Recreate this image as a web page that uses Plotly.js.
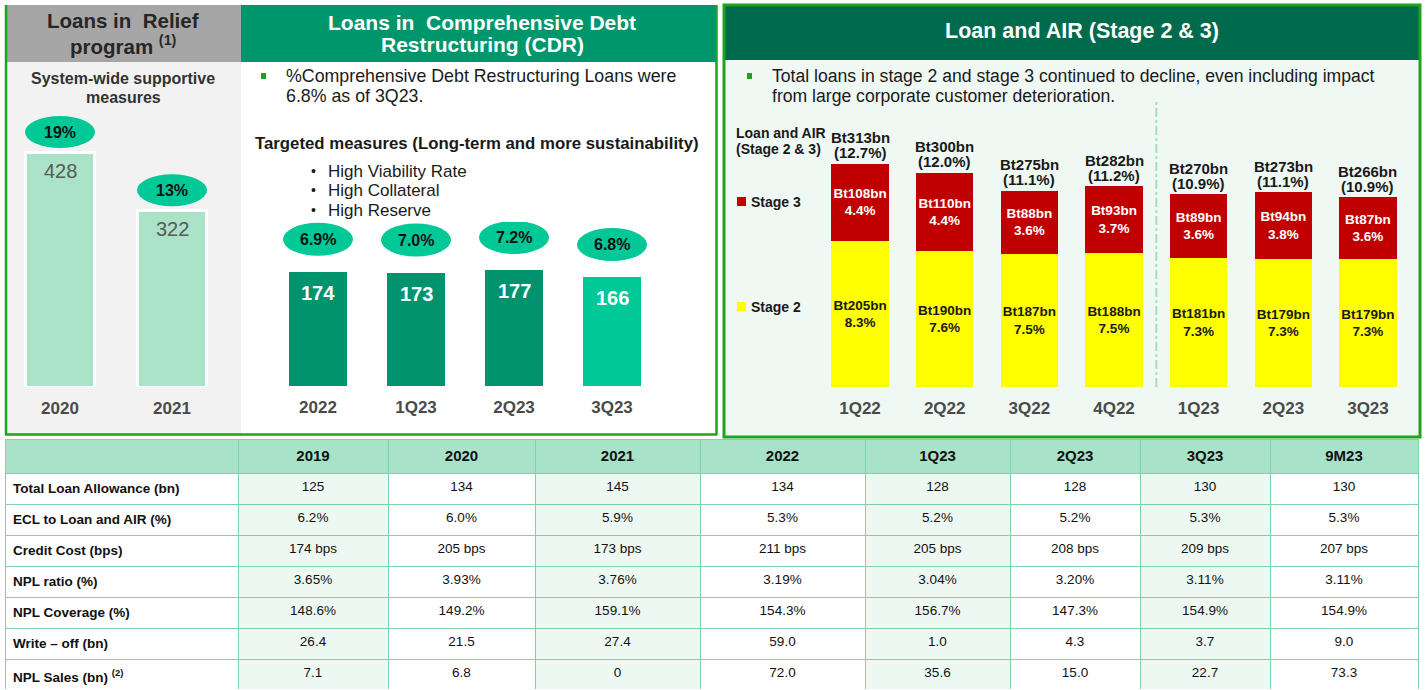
<!DOCTYPE html>
<html>
<head>
<meta charset="utf-8">
<script src="https://cdn.plot.ly/plotly-3.0.1.min.js"></script>
<style>
  html, body { margin: 0; padding: 0; background: #fff; }
  #chart { width: 1425px; height: 690px; }
</style>
</head>
<body>
<div id="chart"></div>
<script>
// Loans in relief program
var reliefYears = ['2020', '2021'];
var reliefLoans = [428, 322];
var reliefPct = ['19%', '13%'];

// Loans in CDR
var cdrPeriods = ['2022', '1Q23', '2Q23', '3Q23'];
var cdrLoans = [174, 173, 177, 166];
var cdrPct = ['6.9%', '7.0%', '7.2%', '6.8%'];
var cdrColors = ['#00936d', '#00936d', '#00936d', '#00c896'];

// Loan and AIR stage 2 & 3 (Bt bn)
var quarters = ['1Q22', '2Q22', '3Q22', '4Q22', '1Q23', '2Q23', '3Q23'];
var stage2 = [205, 190, 187, 188, 181, 179, 179];
var stage2Pct = ['8.3%', '7.6%', '7.5%', '7.5%', '7.3%', '7.3%', '7.3%'];
var stage3 = [108, 110, 88, 93, 89, 94, 87];
var stage3Pct = ['4.4%', '4.4%', '3.6%', '3.7%', '3.6%', '3.8%', '3.6%'];
var totalLoans = [313, 300, 275, 282, 270, 273, 266];
var totalPct = ['12.7%', '12.0%', '11.1%', '11.2%', '10.9%', '11.1%', '10.9%'];

// table
var tableCols = ['2019', '2020', '2021', '2022', '1Q23', '2Q23', '3Q23', '9M23'];
var rowLabels = ['Total Loan Allowance (bn)', 'ECL to Loan and AIR (%)', 'Credit Cost (bps)',
  'NPL ratio (%)', 'NPL Coverage (%)', 'Write \u2013 off (bn)', 'NPL Sales (bn) <sup>(2)</sup>'];
var loanAllowance = ['125', '134', '145', '134', '128', '128', '130', '130'];
var eclRatio = ['6.2%', '6.0%', '5.9%', '5.3%', '5.2%', '5.2%', '5.3%', '5.3%'];
var creditCost = ['174 bps', '205 bps', '173 bps', '211 bps', '205 bps', '208 bps', '209 bps', '207 bps'];
var nplRatio = ['3.65%', '3.93%', '3.76%', '3.19%', '3.04%', '3.20%', '3.11%', '3.11%'];
var nplCoverage = ['148.6%', '149.2%', '159.1%', '154.3%', '156.7%', '147.3%', '154.9%', '154.9%'];
var writeOff = ['26.4', '21.5', '27.4', '59.0', '1.0', '4.3', '3.7', '9.0'];
var nplSales = ['7.1', '6.8', '0', '72.0', '35.6', '15.0', '22.7', '73.3'];

var FONT = 'Liberation Sans, Arial, sans-serif';
var W = 1425, H = 690;
function px(x) { return x / W; }
function py(y) { return 1 - y / H; }

function label(x, y, text, size, color, opts) {
  var a = {
    xref: 'paper', yref: 'paper', x: px(x), y: py(y), text: text,
    showarrow: false, xanchor: 'center', yanchor: 'middle',
    font: {family: FONT, size: size, color: color}
  };
  for (var k in opts) a[k] = opts[k];
  return a;
}
function rect(x0, y0, x1, y1, fill, line) {
  return {
    type: 'rect', xref: 'paper', yref: 'paper', layer: 'below',
    x0: px(x0), x1: px(x1), y0: py(y0), y1: py(y1),
    fillcolor: fill, line: line || {width: 0}
  };
}
function seg(x0, y0, x1, y1, color, width) {
  return {
    type: 'line', xref: 'paper', yref: 'paper', layer: 'below',
    x0: px(x0), x1: px(x1), y0: py(y0), y1: py(y1),
    line: {color: color, width: width}
  };
}

var GREEN = '#1da31d';
var TXT = '#1a1a1a';
var shapes = [
  // left panel
  rect(5, 5, 241, 62, '#a6a6a6'),
  rect(5, 62, 241, 435, '#f2f2f2'),
  seg(6, 5, 6, 435, GREEN, 2.5),
  seg(5, 434.5, 241, 434.5, GREEN, 2.5),
  // middle panel
  rect(241, 5, 717, 62, '#00966c'),
  seg(716.5, 5, 716.5, 435, GREEN, 2.5),
  seg(241, 434.5, 717, 434.5, GREEN, 2.5),
  rect(261, 73, 266, 79, GREEN),
  // right panel
  rect(724, 5, 1420, 437, '#eff8f3'),
  rect(724, 5, 1420, 60, '#006a4d'),
  rect(724, 5, 1420, 437, 'rgba(0,0,0,0)', {color: GREEN, width: 3}),
  rect(747, 73, 752, 79, GREEN),
  rect(737, 197, 746, 206, '#c00000'),
  rect(737, 302, 746, 311, '#ffff00'),
  // divider between 2022 and 2023 quarters
  {type: 'line', xref: 'x3', yref: 'paper', x0: 3.5, x1: 3.5, y0: py(387), y1: py(100),
   line: {color: '#a8dcc6', width: 2, dash: 'dashdot'}}
];

var annotations = [
  label(123, 20, '<b>Loans in  Relief</b>', 20.5, '#262626'),
  label(123, 45, '<b>program <sup>(1)</sup></b>', 20.5, '#262626'),
  label(123, 78, '<b>System-wide supportive</b>', 16, '#333333'),
  label(123, 97, '<b>measures</b>', 16, '#333333'),

  label(482, 23, '<b>Loans in  Comprehensive Debt</b>', 21, '#ffffff'),
  label(482, 45, '<b>Restructuring (CDR)</b>', 21, '#ffffff'),
  label(284, 76, '%Comprehensive Debt Restructuring Loans were', 17.8, TXT, {xanchor: 'left'}),
  label(284, 96, '6.8% as of 3Q23.', 17.8, TXT, {xanchor: 'left'}),
  label(253, 143, '<b>Targeted measures (Long-term and more sustainability)</b>', 16.8, TXT, {xanchor: 'left'}),
  label(313, 171, '\u2022', 14, TXT),
  label(326, 171, 'High Viability Rate', 17, TXT, {xanchor: 'left'}),
  label(313, 190, '\u2022', 14, TXT),
  label(326, 190, 'High Collateral', 17, TXT, {xanchor: 'left'}),
  label(313, 210, '\u2022', 14, TXT),
  label(326, 210, 'High Reserve', 17, TXT, {xanchor: 'left'}),

  label(1082, 31, '<b>Loan and AIR (Stage 2 & 3)</b>', 21.5, '#ffffff'),
  label(770, 76, 'Total loans in stage 2 and stage 3 continued to decline, even including impact', 17.6, TXT, {xanchor: 'left'}),
  label(770, 96, 'from large corporate customer deterioration.', 17.6, TXT, {xanchor: 'left'}),
  label(734, 133, '<b>Loan and AIR</b>', 14, TXT, {xanchor: 'left'}),
  label(734, 149, '<b>(Stage 2 & 3)</b>', 14, TXT, {xanchor: 'left'}),
  label(749, 202, '<b>Stage 3</b>', 14, TXT, {xanchor: 'left'}),
  label(749, 307, '<b>Stage 2</b>', 14, TXT, {xanchor: 'left'})
];

// ellipse badges and labels tied to bar values (x given as category index)
function badge(xr, yr, i, val, lo, hi) {
  return {type: 'circle', xref: xr, yref: yr, xsizemode: 'pixel', ysizemode: 'pixel',
    xanchor: i, yanchor: val, x0: -35, x1: 35, y0: lo, y1: hi,
    fillcolor: '#00c896', line: {width: 0}};
}
function dataNote(xr, yr, i, val, text, size, color, yshift, anchor) {
  return {xref: xr, yref: yr, x: i, y: val, text: text, showarrow: false,
    yshift: yshift, yanchor: anchor, xanchor: 'center',
    font: {family: FONT, size: size, color: color}};
}

reliefYears.forEach(function (yr, i) {
  shapes.push(badge('x', 'y', i, reliefLoans[i], 4, 36));
  annotations.push(dataNote('x', 'y', i, reliefLoans[i], '<b>' + reliefPct[i] + '</b>', 16, '#111111', 20, 'middle'));
  annotations.push(dataNote('x', 'y', i, reliefLoans[i], String(reliefLoans[i]), 20, '#595959', -6, 'top'));
});
cdrPeriods.forEach(function (p, i) {
  shapes.push(badge('x2', 'y2', i, cdrLoans[i], 16, 49));
  annotations.push(dataNote('x2', 'y2', i, cdrLoans[i], '<b>' + cdrPct[i] + '</b>', 16, '#111111', 32.5, 'middle'));
  annotations.push(dataNote('x2', 'y2', i, cdrLoans[i], '<b>' + cdrLoans[i] + '</b>', 20, '#ffffff', -8, 'top'));
});
quarters.forEach(function (q, i) {
  var top = stage2[i] + stage3[i];
  annotations.push(dataNote('x3', 'y3', i, top, '<b>(' + totalPct[i] + ')</b>', 15, TXT, 11, 'middle'));
  annotations.push(dataNote('x3', 'y3', i, top, '<b>Bt' + totalLoans[i] + 'bn</b>', 15, TXT, 26, 'middle'));
});

var tickFont = {family: FONT, size: 17, color: '#4a4a4a', weight: 'bold'};
function xAxis(x0, x1, n, anchor) {
  return {domain: [px(x0), px(x1)], anchor: anchor, type: 'category', range: [-0.5, n - 0.5],
    showgrid: false, zeroline: false, showline: false, ticks: '', tickfont: tickFont,
    ticklabelstandoff: 9, fixedrange: true};
}
function yAxis(y0, y1, top, anchor) {
  return {domain: [py(y0), py(y1)], anchor: anchor, range: [0, top], visible: false, fixedrange: true};
}

var stageText2 = stage2.map(function (v, i) { return '<b>Bt' + v + 'bn<br>' + stage2Pct[i] + '</b>'; });
var stageText3 = stage3.map(function (v, i) { return '<b>Bt' + v + 'bn<br>' + stage3Pct[i] + '</b>'; });

var tableValues = [rowLabels.map(function (r) { return '<b>' + r + '</b>'; })];
tableCols.forEach(function (c, j) {
  tableValues.push([loanAllowance[j], eclRatio[j], creditCost[j], nplRatio[j],
    nplCoverage[j], writeOff[j], nplSales[j]]);
});

var data = [
  {type: 'bar', x: reliefYears, y: reliefLoans, xaxis: 'x', yaxis: 'y', width: 0.62,
   marker: {color: '#abe3c8', line: {color: '#ffffff', width: 3}}, hoverinfo: 'skip'},
  {type: 'bar', x: cdrPeriods, y: cdrLoans, xaxis: 'x2', yaxis: 'y2', width: 0.6,
   marker: {color: cdrColors}, hoverinfo: 'skip'},
  {type: 'bar', x: quarters, y: stage2, xaxis: 'x3', yaxis: 'y3', width: 0.68,
   marker: {color: '#ffff00'}, text: stageText2, textposition: 'inside', insidetextanchor: 'middle',
   textangle: 0, constraintext: 'none', textfont: {family: FONT, size: 13.5, color: TXT}, hoverinfo: 'skip'},
  {type: 'bar', x: quarters, y: stage3, xaxis: 'x3', yaxis: 'y3', width: 0.68,
   marker: {color: '#c00000'}, text: stageText3, textposition: 'inside', insidetextanchor: 'middle',
   textangle: 0, constraintext: 'none', textfont: {family: FONT, size: 13.5, color: '#ffffff'}, hoverinfo: 'skip'},
  {type: 'table', domain: {x: [px(5), px(1418)], y: [0, 251 / H]},
   columnwidth: [233, 150, 147, 165, 165, 145, 130, 130, 148],
   header: {values: [''].concat(tableCols.map(function (c) { return '<b>' + c + '</b>'; })),
     height: 34, align: 'center', fill: {color: '#a8e2c9'},
     line: {color: '#7fd3ab', width: 1}, font: {family: FONT, size: 15, color: '#111111'}},
   cells: {values: tableValues, height: 31, align: ['left', 'center'],
     fill: {color: ['#ffffff', '#eef8f2', '#ffffff', '#eef8f2', '#ffffff', '#eef8f2', '#ffffff', '#eef8f2', '#ffffff']},
     line: {color: '#7fd3ab', width: 1},
     font: {family: FONT, size: 13.5, color: '#111111'}}}
];

var layout = {
  width: W, height: H,
  margin: {l: 0, r: 0, t: 0, b: 0},
  paper_bgcolor: '#ffffff', plot_bgcolor: 'rgba(0,0,0,0)',
  showlegend: false, barmode: 'stack',
  font: {family: FONT},
  xaxis: xAxis(4, 228, 2, 'y'),
  yaxis: yAxis(387, 112.5, 500, 'x'),
  xaxis2: xAxis(269, 661, 4, 'y2'),
  yaxis2: yAxis(386, 222, 250, 'x2'),
  xaxis3: xAxis(817.7, 1410.3, 7, 'y3'),
  yaxis3: yAxis(387, 130, 360, 'x3'),
  shapes: shapes,
  annotations: annotations
};

Plotly.newPlot('chart', data, layout, {staticPlot: true, displayModeBar: false});
</script>
</body>
</html>
